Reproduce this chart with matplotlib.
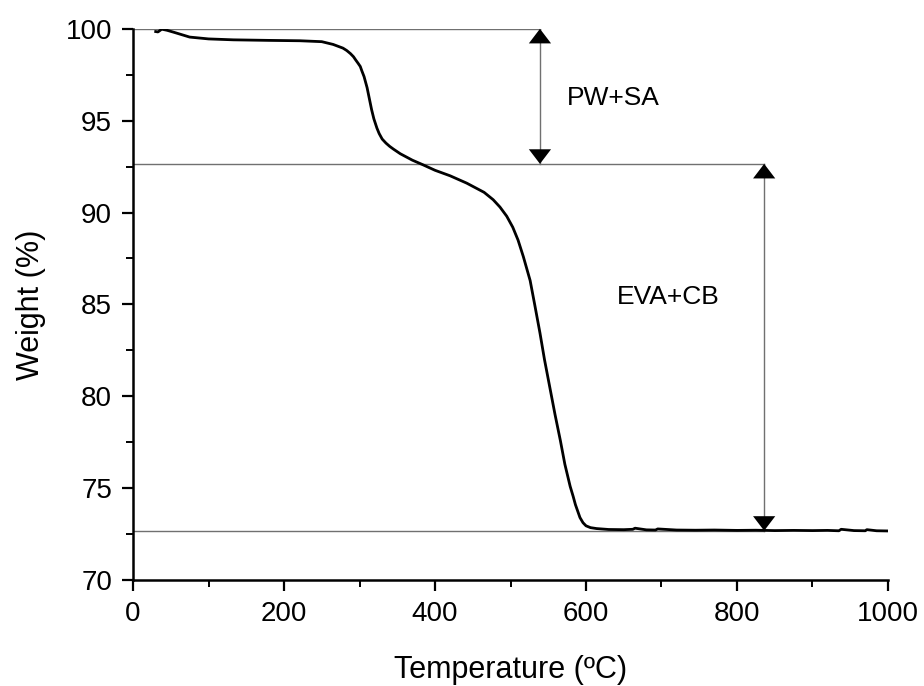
import matplotlib
matplotlib.use("Agg")
import matplotlib.pyplot as plt
from matplotlib.ticker import MultipleLocator

plt.rcParams['font.family'] = ['Liberation Sans', 'DejaVu Sans']

# TGA curve
temperature = [30, 33, 38, 45, 55, 75, 100, 133, 180, 221, 250, 265, 278, 283,
               288, 292, 295, 298, 301, 303, 306, 308, 310, 313, 316, 319, 323,
               326, 330, 335, 340, 345, 354, 370, 384, 400, 420, 442, 465, 477,
               486, 495, 503, 510, 517, 526, 532, 539, 545, 552, 559, 566, 572,
               579, 583, 586, 592, 596, 600, 606, 614, 630, 650, 662, 665, 680,
               692, 695, 720, 745, 770, 800, 825, 850, 875, 900, 920, 935, 938,
               955, 970, 972, 985, 1000]
weight = [99.85, 99.83, 99.98, 99.92, 99.8, 99.55, 99.45, 99.4, 99.37, 99.35,
          99.3, 99.15, 98.95, 98.82, 98.65, 98.48, 98.3, 98.13, 97.95, 97.72,
          97.4, 97.1, 96.8, 96.2, 95.6, 95.1, 94.6, 94.3, 94.0, 93.78, 93.6,
          93.45, 93.2, 92.85, 92.6, 92.3, 92.0, 91.6, 91.1, 90.7, 90.3, 89.8,
          89.2, 88.5, 87.6, 86.3, 85.0, 83.45, 82.0, 80.5, 79.0, 77.6, 76.3,
          75.1, 74.55, 74.1, 73.4, 73.12, 72.95, 72.85, 72.8, 72.75, 72.74,
          72.76, 72.82, 72.73, 72.72, 72.78, 72.72, 72.71, 72.72, 72.7, 72.71,
          72.69, 72.7, 72.69, 72.7, 72.68, 72.76, 72.69, 72.68, 72.74, 72.68,
          72.67]

# step levels and labels
levels = [100.0, 92.65, 72.68]
level_ends = [539, 836, 836]
step_x = [539, 836]
step_labels = ['PW+SA', 'EVA+CB']
label_pos = [(575, 96.25), (641, 85.4)]

fig = plt.figure(figsize=(9.24, 6.86), dpi=100)
ax = fig.add_axes([0.144, 0.1545, 0.817, 0.8035])

for lvl, end in zip(levels, level_ends):
    ax.plot([0, end], [lvl, lvl], color='#707070', lw=1.0, zorder=1)

ax.plot(temperature, weight, color='black', lw=2.0, zorder=3)

head = dict(arrowstyle='-|>,head_length=1.05,head_width=0.8', color='black',
            lw=0, shrinkA=0, shrinkB=0, mutation_scale=10)
for i, x in enumerate(step_x):
    top, bottom = levels[i], levels[i + 1]
    ax.plot([x, x], [top, bottom], color='#707070', lw=1.0, zorder=2)
    ax.annotate('', xy=(x, top), xytext=(x, top - 0.3), arrowprops=head, zorder=4)
    ax.annotate('', xy=(x, bottom), xytext=(x, bottom + 0.3), arrowprops=head, zorder=4)

for txt, (tx, ty) in zip(step_labels, label_pos):
    ax.text(tx, ty, txt, fontsize=19, ha='left', va='center')

ax.set_xlim(0, 1000)
ax.set_ylim(70, 100)
ax.xaxis.set_major_locator(MultipleLocator(200))
ax.xaxis.set_minor_locator(MultipleLocator(100))
ax.yaxis.set_major_locator(MultipleLocator(5))
ax.yaxis.set_minor_locator(MultipleLocator(2.5))

for side in ['top', 'right']:
    ax.spines[side].set_visible(False)
for side in ['left', 'bottom']:
    ax.spines[side].set_linewidth(1.8)

ax.tick_params(which='major', direction='out', length=8, width=1.6,
               labelsize=20, pad=7)
ax.tick_params(which='minor', direction='out', length=5, width=1.4)

ax.set_xlabel('Temperature (ºC)', fontsize=22, labelpad=20)
ax.set_ylabel('Weight (%)', fontsize=22, labelpad=14)

fig.savefig('out.png', dpi=100)
